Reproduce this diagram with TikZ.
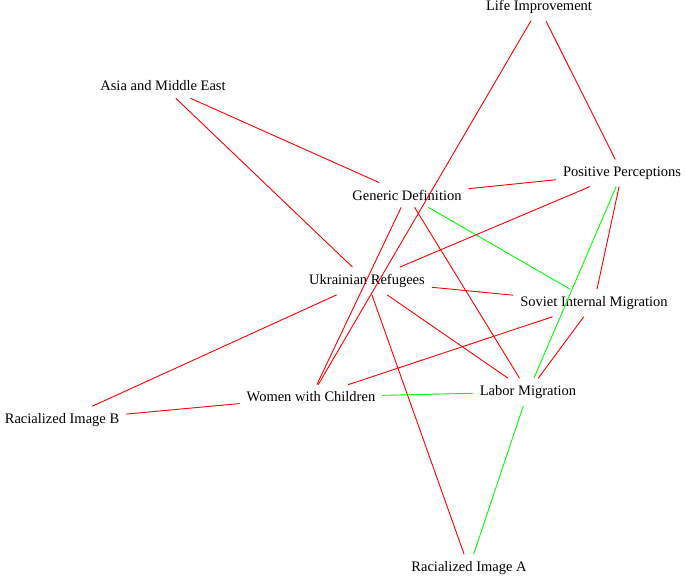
\documentclass[tikz,border=0pt]{standalone}
\usepackage{fontspec}
\setmainfont{Liberation Serif}
\begin{document}
\begin{tikzpicture}[x=1pt,y=-1pt,
  lbl/.style={font=\fontsize{14.5}{16}\selectfont, inner sep=7pt},
  re/.style={draw=red, line width=0.9pt},
  ge/.style={draw=green, line width=0.9pt}]
\useasboundingbox (0,0) rectangle (685,576);
\node[lbl] (life) at (539,7) {Life Improvement};
\node[lbl] (asia) at (163,86) {Asia and Middle East};
\node[lbl] (pos) at (622,173) {Positive Perceptions};
\node[lbl] (gen) at (407,195) {Generic Definition};
\node[lbl] (ukr) at (367,281) {Ukrainian Refugees};
\node[lbl] (sov) at (594,303) {Soviet Internal Migration};
\node[lbl] (wom) at (311,397) {Women with Children};
\node[lbl] (lab) at (528,392) {Labor Migration};
\node[lbl] (rb) at (62,420) {Racialized Image B};
\node[lbl] (ra) at (469,568) {Racialized Image A};
\draw[re] (life) -- (wom);
\draw[re] (life) -- (pos);
\draw[re] (asia) -- (gen);
\draw[re] (asia) -- (ukr);
\draw[re] (gen) -- (pos);
\draw[ge] (gen) -- (sov);
\draw[re] (gen) -- (wom);
\draw[re] (gen) -- (lab);
\draw[re] (pos) -- (ukr);
\draw[ge] (pos) -- (lab);
\draw[re] (pos) -- (sov);
\draw[re] (ukr) -- (sov);
\draw[re] (ukr) -- (lab);
\draw[re] (ukr) -- (ra);
\draw[re] (ukr) -- (rb);
\draw[re] (sov) -- (wom);
\draw[re] (sov) -- (lab);
\draw[ge] (wom) -- (lab);
\draw[re] (wom) -- (rb);
\draw[ge] (lab) -- (ra);
\end{tikzpicture}
\end{document}
